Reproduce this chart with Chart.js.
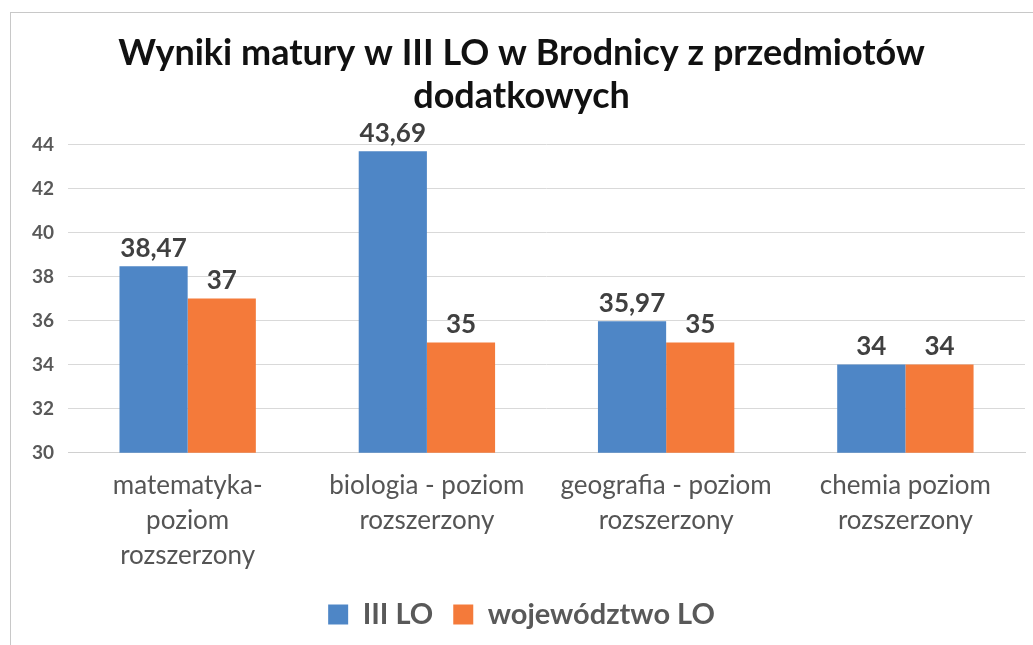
<!DOCTYPE html>
<html>
<head>
<meta charset="utf-8">
<script src="https://cdn.jsdelivr.net/npm/chart.js@4"></script>
<style>
  html, body { margin: 0; padding: 0; background: #fff; }
  #wrap { width: 1033px; height: 645px; position: relative; }
</style>
</head>
<body>
<div id="wrap"><canvas id="myChart"></canvas></div>
<script>
// dane z wykresu
const categories = [
  ['matematyka-', 'poziom', 'rozszerzony'],
  ['biologia - poziom', 'rozszerzony'],
  ['geografia - poziom', 'rozszerzony'],
  ['chemia poziom', 'rozszerzony']
];
const seriesNames = ['III LO', 'województwo LO'];
const szkola = [38.47, 43.69, 35.97, 34];
const wojewodztwo = [37, 35, 35, 34];
const yTicks = [30, 32, 34, 36, 38, 40, 42, 44];

const fontFamily = 'Lato, "Open Sans", sans-serif';

// etykiety wartości nad słupkami
const valueLabels = {
  id: 'valueLabels',
  afterDatasetsDraw(chart) {
    const ctx = chart.ctx;
    ctx.save();
    ctx.font = 'bold 26px ' + fontFamily;
    ctx.fillStyle = '#404040';
    ctx.textAlign = 'center';
    ctx.textBaseline = 'bottom';
    chart.data.datasets.forEach((ds, i) => {
      const meta = chart.getDatasetMeta(i);
      meta.data.forEach((bar, j) => {
        const txt = String(ds.data[j]).replace('.', ',');
        ctx.fillText(txt, bar.x, bar.y - 5);
      });
    });
    ctx.restore();
  }
};

// ramka wokół obrazka
const frame = {
  id: 'frame',
  beforeDraw(chart) {
    const ctx = chart.ctx;
    ctx.save();
    ctx.strokeStyle = '#c8c8c8';
    ctx.lineWidth = 1;
    ctx.strokeRect(10.5, 12.5, 1100, 700);
    ctx.restore();
  }
};

const ctx = document.getElementById('myChart').getContext('2d');
new Chart(ctx, {
  type: 'bar',
  data: {
    labels: categories,
    datasets: [
      {
        label: seriesNames[0],
        data: szkola,
        backgroundColor: '#4E86C6',
        barPercentage: 1.0,
        categoryPercentage: 0.57
      },
      {
        label: seriesNames[1],
        data: wojewodztwo,
        backgroundColor: '#F47A3A',
        barPercentage: 1.0,
        categoryPercentage: 0.57
      }
    ]
  },
  options: {
    responsive: true,
    maintainAspectRatio: false,
    animation: false,
    layout: { padding: { left: 18, right: 8, top: 32, bottom: 6 } },
    plugins: {
      title: {
        display: true,
        text: ['Wyniki matury w III LO w Brodnicy z przedmiotów', 'dodatkowych'],
        color: '#111111',
        font: { family: fontFamily, size: 36, weight: 'bold', lineHeight: 1.2 },
        padding: { top: 0, bottom: 26 }
      },
      legend: {
        position: 'bottom',
        labels: {
          color: '#595959',
          font: { family: fontFamily, size: 29, weight: 'bold' },
          boxWidth: 20,
          boxHeight: 20,
          padding: 20
        }
      },
      tooltip: { enabled: false }
    },
    scales: {
      x: {
        grid: { display: false },
        border: { color: '#d0d0d0' },
        ticks: {
          color: '#555555',
          font: { family: fontFamily, size: 26, lineHeight: 1.35 },
          padding: 7,
          maxRotation: 0
        }
      },
      y: {
        min: yTicks[0],
        max: yTicks[yTicks.length - 1],
        afterBuildTicks(axis) {
          axis.ticks = yTicks.map(v => ({ value: v }));
        },
        grid: { color: '#d9d9d9', drawTicks: false },
        border: { display: false },
        ticks: {
          color: '#595959',
          font: { family: fontFamily, size: 19, weight: 'bold' },
          padding: 14
        }
      }
    }
  },
  plugins: [valueLabels, frame]
});
</script>
</body>
</html>
